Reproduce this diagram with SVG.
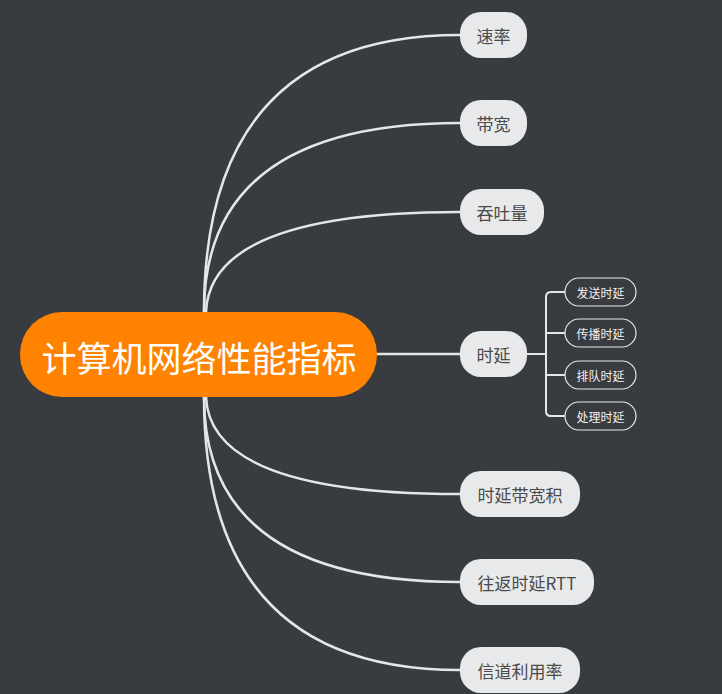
<svg xmlns="http://www.w3.org/2000/svg" width="722" height="694" viewBox="0 0 722 694">
<style>
.bg{fill:#383b40}
.link{fill:none;stroke:#e6e6e6;stroke-width:2.5;stroke-linecap:round}
.sublink{fill:none;stroke:#e6e6e6;stroke-width:2}
.main rect{fill:#e8e9eb}
.main text{font-family:"Noto Sans CJK SC","Microsoft YaHei",sans-serif;font-size:17px;fill:#4a4a4a;text-anchor:middle;dominant-baseline:central}
.sub rect{fill:#383b40;stroke:#e6e6e6;stroke-width:1.2}
.sub text{font-family:"Noto Sans CJK SC",sans-serif;font-size:12px;fill:#f2f2f2;text-anchor:middle;dominant-baseline:central}
.root rect{fill:#ff8200}
.root text{font-family:"Noto Sans CJK SC","Microsoft YaHei",sans-serif;font-size:35px;fill:#ffffff;text-anchor:middle;dominant-baseline:central}
</style>
<rect class="bg" x="0" y="0" width="722" height="694"/>
<g id="connectors">
<path class="link" d="M204,312 Q204,35 460,35"/>
<path class="link" d="M204,312 Q204,123 460,123"/>
<path class="link" d="M206,312 Q210,212 460,212"/>
<path class="link" d="M377,354 L460,354"/>
<path class="link" d="M206,397 Q210,494 460,494"/>
<path class="link" d="M204,397 Q204,582 460,582"/>
<path class="link" d="M204,397 Q204,670 460,670"/>
<path class="sublink" d="M527,354 H546"/>
<path class="sublink" d="M565,292 H551 Q546,292 546,297 V411 Q546,416 551,416 H565"/>
<path class="sublink" d="M546,333 H565 M546,375 H565"/>
</g>
<g id="root" class="root">
<rect x="20" y="312" width="357" height="85" rx="42" ry="42"/>
<text x="199" y="356">计算机网络性能指标</text>
</g>
<g id="n-sulv" class="main"><rect x="460" y="12" width="67" height="46" rx="21"/><text x="493.5" y="35">速率</text></g>
<g id="n-daikuan" class="main"><rect x="460" y="100" width="67" height="46" rx="21"/><text x="493.5" y="123">带宽</text></g>
<g id="n-tuntu" class="main"><rect x="460" y="189" width="84" height="46" rx="21"/><text x="502" y="212">吞吐量</text></g>
<g id="n-shiyan" class="main"><rect x="460" y="331" width="67" height="46" rx="21"/><text x="493.5" y="354">时延</text></g>
<g id="n-sydkj" class="main"><rect x="460" y="471" width="120" height="46" rx="21"/><text x="520" y="494">时延带宽积</text></g>
<g id="n-rtt" class="main"><rect x="460" y="559" width="134" height="46" rx="21"/><text x="527" y="582">往返时延RTT</text></g>
<g id="n-xdlyl" class="main"><rect x="460" y="647" width="120" height="46" rx="21"/><text x="520" y="670">信道利用率</text></g>
<g id="s-fasong" class="sub"><rect x="565" y="278" width="71" height="28" rx="14"/><text x="600.5" y="292">发送时延</text></g>
<g id="s-chuanbo" class="sub"><rect x="565" y="319" width="71" height="28" rx="14"/><text x="600.5" y="333">传播时延</text></g>
<g id="s-paidui" class="sub"><rect x="565" y="361" width="71" height="28" rx="14"/><text x="600.5" y="375">排队时延</text></g>
<g id="s-chuli" class="sub"><rect x="565" y="402" width="71" height="28" rx="14"/><text x="600.5" y="416">处理时延</text></g>
</svg>
